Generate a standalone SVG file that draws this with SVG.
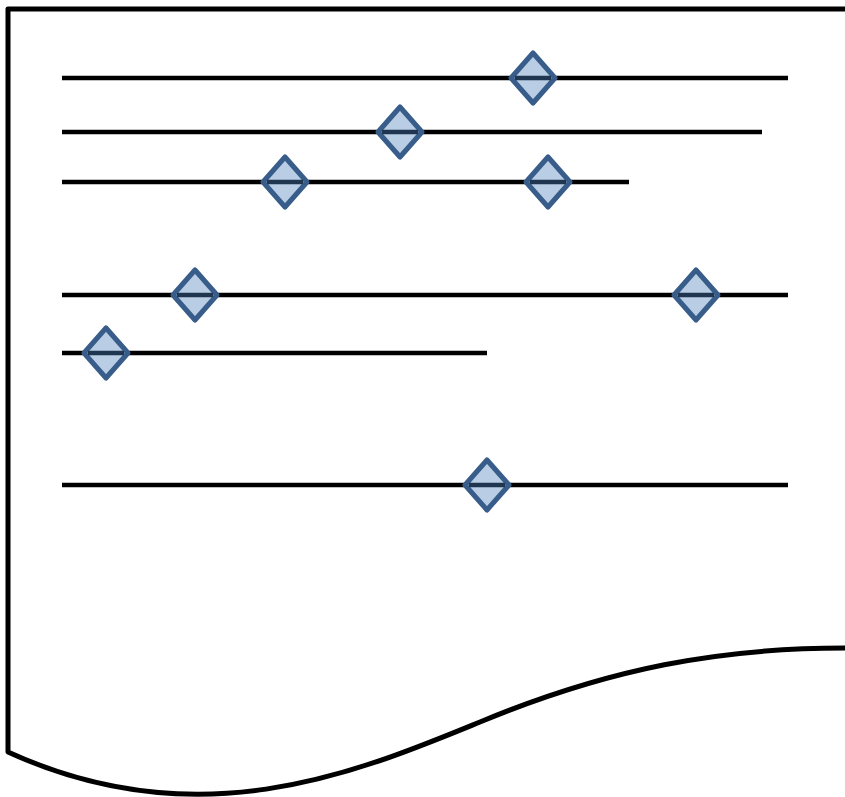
<svg xmlns="http://www.w3.org/2000/svg" width="845" height="797" viewBox="0 0 845 797">
<defs>
<style>
.doc{fill:#fff;stroke:#000;stroke-width:5;stroke-linejoin:round}
.ln{stroke:#000;stroke-width:4.5;fill:none}
.dm{fill:#b9cde5;stroke:#385d8a;stroke-width:5;stroke-linejoin:round}
.dl{stroke:#1f3550;stroke-width:4.5}
</style>
<g id="d"><path class="dm" d="M0,-25 L22,0 L0,25 L-22,0 Z"/><line class="dl" x1="-18" y1="0" x2="18" y2="0"/></g>
</defs>
<g id="document">
<path class="doc" d="M8,9 L850,9 L850,648 L845,648 C720,648 610,668 480,722 C360,771 200,840 8,752 Z"/>
</g>
<g id="connectors">
<line class="ln" x1="62" y1="78" x2="788" y2="78"/>
<line class="ln" x1="62" y1="132" x2="762" y2="132"/>
<line class="ln" x1="62" y1="182" x2="629" y2="182"/>
<line class="ln" x1="62" y1="295" x2="788" y2="295"/>
<line class="ln" x1="62" y1="353" x2="487" y2="353"/>
<line class="ln" x1="62" y1="485" x2="788" y2="485"/>
</g>
<g id="m1"><use href="#d" x="533" y="78"/></g>
<g id="m2"><use href="#d" x="400" y="132"/></g>
<g id="m3"><use href="#d" x="285" y="182"/></g>
<g id="m4"><use href="#d" x="548" y="182"/></g>
<g id="m5"><use href="#d" x="195" y="295"/></g>
<g id="m6"><use href="#d" x="696" y="295"/></g>
<g id="m7"><use href="#d" x="106" y="353"/></g>
<g id="m8"><use href="#d" x="487" y="485"/></g>
</svg>
